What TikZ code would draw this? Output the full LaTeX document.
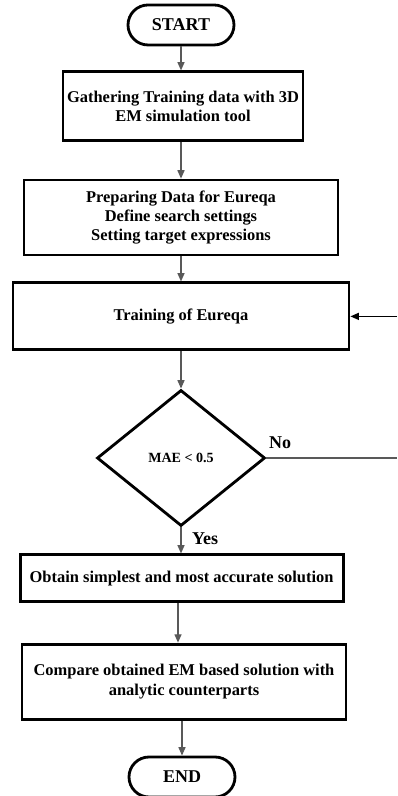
\documentclass[tikz,border=0pt]{standalone}
\usepackage{fontspec}
\setmainfont{Liberation Serif}
\usepackage{tikz}
\usetikzlibrary{calc,positioning,arrows.meta,shapes}

\begin{document}
\begin{tikzpicture}[
        every node/.style={font=\bfseries\fontsize{11.7}{13.6}\selectfont, align=center},
        box/.style={draw, line width=2pt, rectangle, inner sep=0pt},
        term/.style={draw, line width=2pt, rectangle, rounded corners=0.5cm, minimum width=2.65cm, minimum height=1cm, font=\bfseries\fontsize{12.8}{14}\selectfont},
        arr/.style={draw=black!65, line width=1pt, -{Triangle[length=6pt,width=5pt]}}]
        \useasboundingbox (0,0) rectangle (9.925,19.9);

        \node[term] (start) at (4.525,19.275) {START};
        \node[box, minimum width=6cm, minimum height=1.725cm] (gather) at (4.575,17.24) {Gathering Training data with 3D\\EM simulation tool};
        \node[box, minimum width=7.85cm, minimum height=1.875cm] (prep) at (4.525,14.46) {Preparing Data for Eureqa\\Define search settings\\Setting target expressions};
        \node[box, minimum width=8.4cm, minimum height=1.675cm] (train) at (4.525,11.99) {Training of Eureqa};
        \node[draw, line width=2pt, diamond, minimum width=4.2cm, minimum height=3.4cm, inner sep=0pt, font=\bfseries\fontsize{10}{12}\selectfont] (mae) at (4.525,8.45) {MAE < 0.5};
        \node[box, minimum width=8.075cm, minimum height=1.175cm] (obtain) at (4.54,5.44) {Obtain simplest and most accurate solution};
        \node[box, minimum width=8.1cm, minimum height=1.875cm] (comp) at (4.6,2.86) {Compare obtained EM based solution with\\analytic counterparts};
        \node[term] (end) at (4.55,0.475) {END};

        \node[font=\bfseries\fontsize{12.8}{14}\selectfont] (no) at (7.0,8.83) {No};
        \node[font=\bfseries\fontsize{12.8}{14}\selectfont] (yes) at (5.13,6.43) {Yes};

        \coordinate (outno) at (9.925,8.45);
        \coordinate (outtrain) at (9.925,11.99);
        \coordinate (obtainout) at ($(obtain.south)+(-0.09,0)$);
        \coordinate (compout) at ($(comp.south)+(-0.05,0)$);

        \draw[arr] (start.south) -- (start.south |- gather.north);
        \draw[arr] (prep.north |- gather.south) -- (prep.north);
        \draw[arr] (prep.south) -- (train.north);
        \draw[arr] (train.south) -- (mae.north);
        \draw[arr] (mae.south) -- (mae.south |- obtain.north);
        \draw[arr] (obtainout) -- (obtainout |- comp.north);
        \draw[arr] (compout) -- (compout |- end.north);
        \draw[black!65, line width=0.8pt] (mae.east) -- (outno);
        \draw[line width=0.8pt, -{Triangle[length=6pt,width=5pt]}] (outtrain) -- (train.east);
\end{tikzpicture}
\end{document}
